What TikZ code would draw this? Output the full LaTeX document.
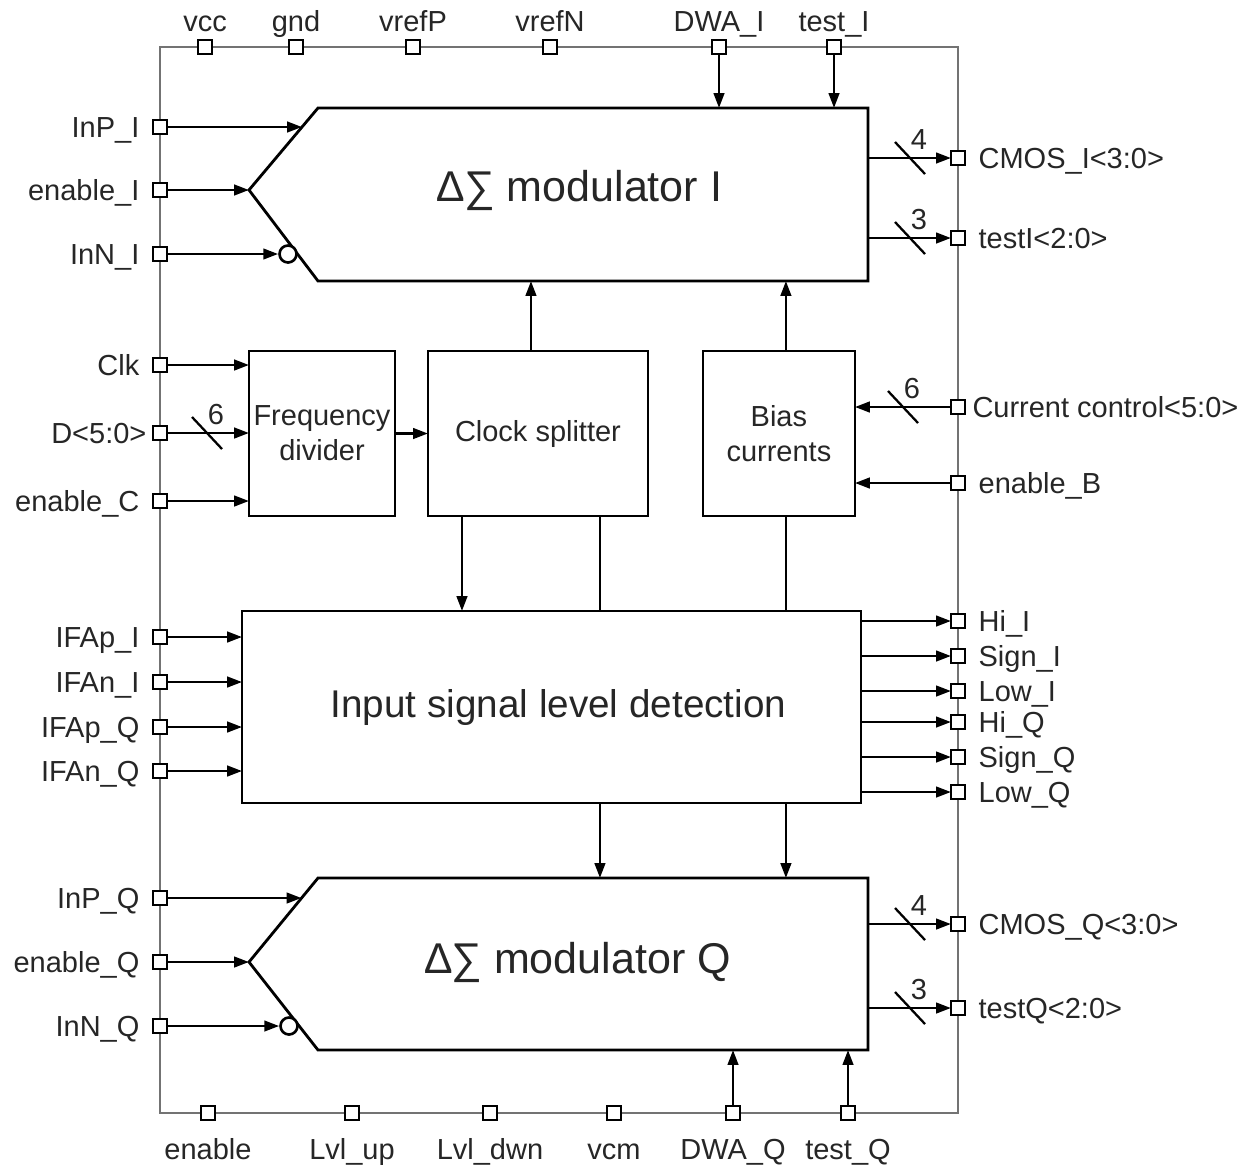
\documentclass[tikz,border=0pt]{standalone}
\usepackage{fontspec}
\setmainfont{Liberation Sans}
\usetikzlibrary{positioning,arrows.meta}

% bus width mark: slash across a line plus its width
\newcommand{\buscut}[2]{%
  \draw[line width=1.3pt] ([shift={(-15,-16)}]#1) -- ([shift={(15,16)}]#1);
  \node[lbl] at ([shift={(9,-19)}]#1) {#2};}

\begin{document}
\begin{tikzpicture}[x=0.02cm, y=-0.02cm,
    line width=1.5pt,
    frame/.style={draw=black!55, line width=1.2pt},
    modline/.style={draw, line width=1.6pt, line join=miter},
    pinbox/.style={draw, fill=white, line width=1.2pt, minimum size=8pt, inner sep=0pt, outer sep=0pt},
    blk/.style={draw, line width=1.6pt, align=center, inner sep=0pt, outer sep=0pt, minimum height=3.3cm, font=\fontsize{16.5}{20}\selectfont, text=black!85},
    big/.style={text=black!85, inner sep=0pt},
    lbl/.style={font=\fontsize{16.5}{19}\selectfont, text=black!85, inner sep=1pt, text height=12pt, text depth=0pt},
    every label/.style={lbl},
    lL/.style={xshift=-6pt},
    lR/.style={xshift=6pt},
    lT/.style={yshift=3pt},
    lB/.style={yshift=-8.5pt},
    arr/.style={-{Triangle[length=8.5pt, width=6pt]}, line width=1.5pt},
    bub/.style={circle, draw, fill=white, line width=1.5pt, minimum size=0.34cm, inner sep=0pt},
  ]
  \useasboundingbox (0,0) rectangle (1239,1164);

  % chip outline
  \draw[frame] (160,47) rectangle (958,1113);

  % modulator I
  \draw[modline] (318,108) coordinate (mInw) -- (868,108) coordinate (mIne)
    -- (868,281) coordinate (mIse) -- (318,281) coordinate (mIsw)
    -- (249,190) coordinate (mItip) -- cycle;
  \node[big, font=\fontsize{24.5}{28}\selectfont] (modItxt) at (580,190) {∆∑ modulator I};
  \node[bub] (bubI) at (288,254) {};
  \coordinate (inPIend) at (302,127);

  % middle blocks
  \node[blk, minimum width=2.92cm]                      (fdiv)   at (322,433.5) {Frequency\\divider};
  \node[blk, minimum width=4.4cm, right=0.66cm of fdiv]  (csplit) {Clock splitter};
  \node[blk, minimum width=3.04cm, right=1.1cm of csplit] (bias)  {Bias\\currents};

  % level detection
  \node[blk, minimum width=12.38cm, minimum height=3.84cm, font=\fontsize{22}{26}\selectfont] (det) at (551.5,707) {\hspace*{0.28cm}Input signal level detection};

  % modulator Q
  \draw[modline] (318,878) coordinate (mQnw) -- (868,878) coordinate (mQne)
    -- (868,1050) coordinate (mQse) -- (318,1050) coordinate (mQsw)
    -- (249,962) coordinate (mQtip) -- cycle;
  \node[big, font=\fontsize{24.5}{28}\selectfont] (modQtxt) at (578,962) {∆∑ modulator Q};
  \node[bub] (bubQ) at (289,1026) {};
  \coordinate (inPQend) at (301.5,898);

  % top pins
  \node[pinbox, label={[lT]above:vcc}]      (pVcc)   at (205,47) {};
  \node[pinbox, label={[lT]above:gnd}]      (pGnd)   at (296,47) {};
  \node[pinbox, label={[lT]above:vrefP}]    (pVrefP) at (413,47) {};
  \node[pinbox, label={[lT]above:vrefN}]    (pVrefN) at (550,47) {};
  \node[pinbox, label={[lT]above:DWA\_I}]   (pDWAI)  at (719,47) {};
  \node[pinbox, label={[lT]above:test\_I}]  (pTestI) at (834,47) {};

  % left pins
  \node[pinbox, label={[lL]left:InP\_I}]     (pInPI)  at (160,127) {};
  \node[pinbox, label={[lL]left:enable\_I}]  (pEnI)   at (160,190) {};
  \node[pinbox, label={[lL]left:InN\_I}]     (pInNI)  at (160,254) {};
  \node[pinbox, label={[lL]left:Clk}]        (pClk)   at (160,365) {};
  \node[pinbox, label={[xshift=-2pt]left:{D<5:0>}}] (pD) at (160,433) {};
  \node[pinbox, label={[lL]left:enable\_C}]  (pEnC)   at (160,501) {};
  \node[pinbox, label={[lL]left:IFAp\_I}]    (pIFApI) at (160,637) {};
  \node[pinbox, label={[lL]left:IFAn\_I}]    (pIFAnI) at (160,682) {};
  \node[pinbox, label={[lL]left:IFAp\_Q}]    (pIFApQ) at (160,727) {};
  \node[pinbox, label={[lL]left:IFAn\_Q}]    (pIFAnQ) at (160,771) {};
  \node[pinbox, label={[lL]left:InP\_Q}]     (pInPQ)  at (160,898) {};
  \node[pinbox, label={[lL]left:enable\_Q}]  (pEnQ)   at (160,962) {};
  \node[pinbox, label={[lL]left:InN\_Q}]     (pInNQ)  at (160,1026) {};

  % right pins
  \node[pinbox, label={[lR]right:{CMOS\_I<3:0>}}] (pCMOSI) at (958,158) {};
  \node[pinbox, label={[lR]right:{testI<2:0>}}]   (pTstI)  at (958,238) {};
  \node[pinbox, label={[xshift=2.5pt]right:{Current control<5:0>}}] (pCur) at (958,407) {};
  \node[pinbox, label={[lR]right:enable\_B}]  (pEnB)   at (958,483) {};
  \node[pinbox, label={[lR]right:Hi\_I}]      (pHiI)   at (958,621) {};
  \node[pinbox, label={[lR]right:Sign\_I}]    (pSgI)   at (958,656) {};
  \node[pinbox, label={[lR]right:Low\_I}]     (pLoI)   at (958,691) {};
  \node[pinbox, label={[lR]right:Hi\_Q}]      (pHiQ)   at (958,722) {};
  \node[pinbox, label={[lR]right:Sign\_Q}]    (pSgQ)   at (958,757) {};
  \node[pinbox, label={[lR]right:Low\_Q}]     (pLoQ)   at (958,792) {};
  \node[pinbox, label={[lR]right:{CMOS\_Q<3:0>}}] (pCMOSQ) at (958,924) {};
  \node[pinbox, label={[lR]right:{testQ<2:0>}}]   (pTstQ)  at (958,1008) {};

  % bottom pins
  \node[pinbox, label={[lB]below:enable}]    (pEn)    at (208,1113) {};
  \node[pinbox, label={[lB]below:Lvl\_up}]   (pLvU)   at (352,1113) {};
  \node[pinbox, label={[lB]below:Lvl\_dwn}]  (pLvD)   at (490,1113) {};
  \node[pinbox, label={[lB]below:vcm}]       (pVcm)   at (614,1113) {};
  \node[pinbox, label={[lB]below:DWA\_Q}]    (pDWAQ)  at (733,1113) {};
  \node[pinbox, label={[lB]below:test\_Q}]   (pTestQ) at (848,1113) {};

  % modulator I connections
  \draw[arr] (pDWAI) -- (pDWAI |- mInw);
  \draw[arr] (pTestI) -- (pTestI |- mInw);
  \draw[arr] (pInPI) -- (inPIend);
  \draw[arr] (pEnI) -- (mItip);
  \draw[arr] (pInNI) -- (bubI);
  \draw[arr] (pCMOSI -| mIne) -- (pCMOSI);
  \draw[arr] (pTstI -| mIne) -- (pTstI);
  \coordinate (busCI) at (910,158);
  \coordinate (busTI) at (910,238);
  \buscut{busCI}{4}
  \buscut{busTI}{3}

  % clock and bias
  \draw[arr] (pClk) -- (pClk -| fdiv.west);
  \draw[arr] (pD) -- (pD -| fdiv.west);
  \draw[arr] (pEnC) -- (pEnC -| fdiv.west);
  \coordinate (busD) at (207,433);
  \buscut{busD}{6}
  \draw[arr] (fdiv) -- (csplit);
  \draw[arr] (pCur) -- (pCur -| bias.east);
  \draw[arr] (pEnB) -- (pEnB -| bias.east);
  \coordinate (busCur) at (903,407);
  \buscut{busCur}{6}

  \coordinate (csA)   at ([xshift=-0.14cm]csplit.north);
  \coordinate (biasA) at ([xshift=0.14cm]bias.north);
  \coordinate (csB)   at ([xshift=-1.52cm]csplit.south);
  \coordinate (csC)   at ([xshift=1.24cm]csplit.south);
  \coordinate (biasB) at ([xshift=0.14cm]bias.south);
  \draw[arr] (csA) -- (csA |- mIsw);
  \draw[arr] (biasA) -- (biasA |- mIsw);
  \draw[arr] (csB) -- (csB |- det.north);
  \draw (csC) -- (csC |- det.north);
  \draw (biasB) -- (biasB |- det.north);

  % level detection connections
  \draw[arr] (pIFApI) -- (pIFApI -| det.west);
  \draw[arr] (pIFAnI) -- (pIFAnI -| det.west);
  \draw[arr] (pIFApQ) -- (pIFApQ -| det.west);
  \draw[arr] (pIFAnQ) -- (pIFAnQ -| det.west);
  \draw[arr] (pHiI -| det.east) -- (pHiI);
  \draw[arr] (pSgI -| det.east) -- (pSgI);
  \draw[arr] (pLoI -| det.east) -- (pLoI);
  \draw[arr] (pHiQ -| det.east) -- (pHiQ);
  \draw[arr] (pSgQ -| det.east) -- (pSgQ);
  \draw[arr] (pLoQ -| det.east) -- (pLoQ);
  \draw[arr] (csC |- det.south) -- (csC |- mQnw);
  \draw[arr] (biasB |- det.south) -- (biasB |- mQnw);

  % modulator Q connections
  \draw[arr] (pInPQ) -- (inPQend);
  \draw[arr] (pEnQ) -- (mQtip);
  \draw[arr] (pInNQ) -- (bubQ);
  \draw[arr] (pCMOSQ -| mQne) -- (pCMOSQ);
  \draw[arr] (pTstQ -| mQne) -- (pTstQ);
  \coordinate (busCQ) at (910,924);
  \coordinate (busTQ) at (910,1008);
  \buscut{busCQ}{4}
  \buscut{busTQ}{3}
  \draw[arr] (pDWAQ) -- (pDWAQ |- mQsw);
  \draw[arr] (pTestQ) -- (pTestQ |- mQsw);
\end{tikzpicture}
\end{document}
